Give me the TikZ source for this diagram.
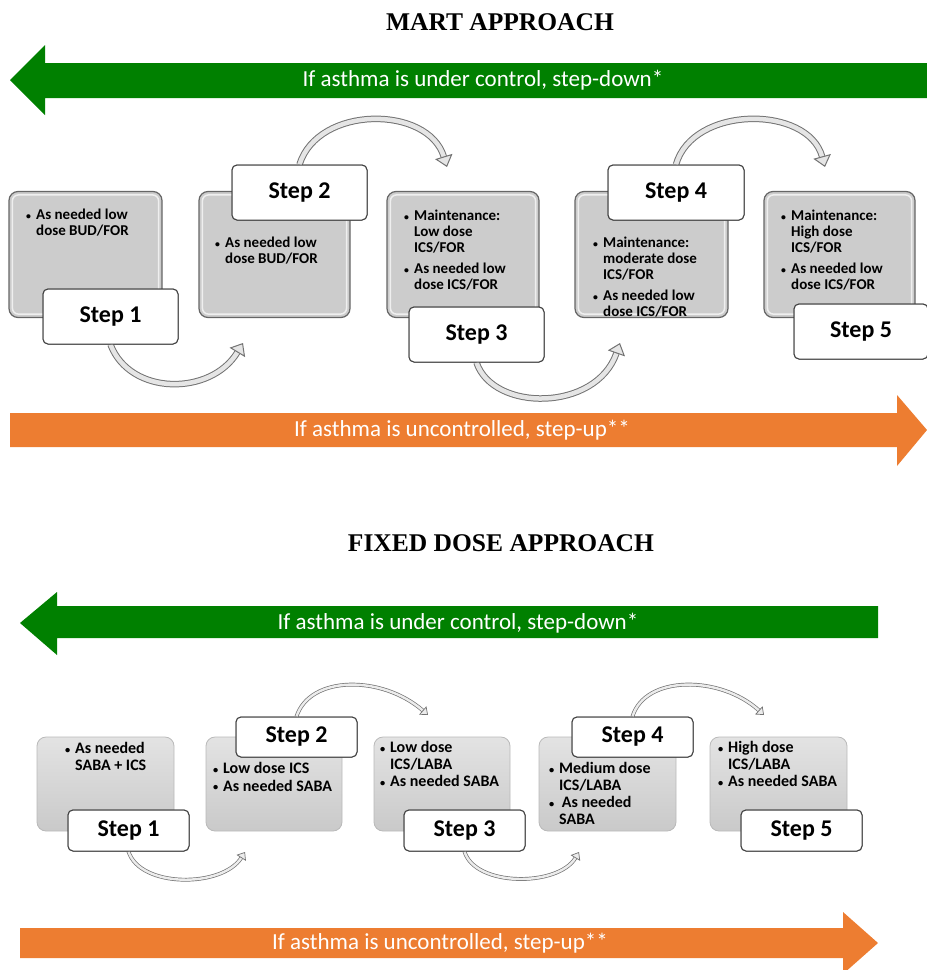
\documentclass[tikz,border=0pt]{standalone}
\usepackage{fontspec}
\usepackage{graphicx}
\setmainfont{Carlito}
\newfontfamily\titlefont{Liberation Serif}
\usetikzlibrary{arrows.meta}
\definecolor{arrgreen}{HTML}{008000}
\definecolor{arrorange}{HTML}{ED7D31}
\newcommand\bul{\makebox[10pt][l]{\raisebox{0.5pt}{\scalebox{0.65}{\textbullet}}}}
\begin{document}
\begin{tikzpicture}[x=1pt,y=-1pt,
  titletext/.style={font=\titlefont\bfseries\fontsize{25.5}{29}\selectfont},
  arrtext/.style={text=white, font=\fontsize{23}{27}\selectfont},
  mbox/.style={draw=black!60, fill=gray!40, rounded corners=9pt, line width=1.2pt, inner sep=0pt},
  fbox/.style={draw=gray!55, top color=gray!22, bottom color=gray!42, rounded corners=9pt, line width=0.8pt, inner sep=0pt},
  stepbox/.style={draw=black!75, fill=white, rounded corners=5pt, line width=1pt, inner sep=0pt, font=\bfseries\fontsize{24}{27}\selectfont},
  mtext/.style={anchor=north west, inner sep=0pt, font=\bfseries\fontsize{15}{16}\selectfont},
  ftext/.style={anchor=north west, inner sep=0pt, font=\bfseries\fontsize{16}{16.5}\selectfont},
  marc/.style={draw=black!55, line width=1pt, double=gray!20, double distance=4.5pt, -{Triangle[length=11pt,width=18pt,fill=gray!20]}},
  farc/.style={draw=black!55, line width=0.7pt, double=gray!15, double distance=2.4pt, -{Triangle[length=7pt,width=11pt,fill=gray!15]}}
]
\useasboundingbox (0,0) rectangle (927,970);

% ---------------- MART ----------------
\node[titletext] (t1) at (500,22) {MART APPROACH};

\fill[arrgreen] (10,80) -- (45,45) -- (45,63) -- (927,63) -- (927,98) -- (45,98) -- (45,115) -- cycle;
\node[arrtext] (g1) at (483,80) {If asthma is under control, step-down*};

\fill[arrorange] (10,413) -- (897,413) -- (897,395) -- (927,430) -- (897,466) -- (897,447) -- (10,447) -- cycle;
\node[arrtext] (o1) at (462,430) {If asthma is uncontrolled, step-up**};

% gray boxes
\node[mbox, minimum width=153pt, minimum height=126pt] (mb1) at (85.5,254.5) {};
\node[mbox, minimum width=151pt, minimum height=126pt] (mb2) at (274.5,254.5) {};
\node[mbox, minimum width=152pt, minimum height=126pt] (mb3) at (463,254.5) {};
\node[mbox, minimum width=153pt, minimum height=126pt] (mb4) at (651.5,254.5) {};
\node[mbox, minimum width=151pt, minimum height=126pt] (mb5) at (839.5,254.5) {};
\foreach \b in {mb1,mb2,mb3,mb4,mb5}{
  \draw[white, opacity=0.7, line width=1.5pt, rounded corners=6pt]
    ([shift={(4pt,4pt)}]\b.south west) rectangle ([shift={(-4pt,-4pt)}]\b.north east);
}

\node[mtext] (mt1) at (26,208.5) {\begin{tabular}{@{}l@{}l@{}}\bul & As needed low\\ & dose BUD/FOR\end{tabular}};
\node[mtext] (mt2) at (215,236.5) {\begin{tabular}{@{}l@{}l@{}}\bul & As needed low\\ & dose BUD/FOR\end{tabular}};
\node[mtext] (mt3) at (404,209.5) {\begin{tabular}{@{}l@{}l@{}}\bul & Maintenance:\\ & Low dose\\ & ICS/FOR\\[5pt]\bul & As needed low\\ & dose ICS/FOR\end{tabular}};
\node[mtext] (mt4) at (593,236.5) {\begin{tabular}{@{}l@{}l@{}}\bul & Maintenance:\\ & moderate dose\\ & ICS/FOR\\[5pt]\bul & As needed low\\ & dose ICS/FOR\end{tabular}};
\node[mtext] (mt5) at (781,209.5) {\begin{tabular}{@{}l@{}l@{}}\bul & Maintenance:\\ & High dose\\ & ICS/FOR\\[5pt]\bul & As needed low\\ & dose ICS/FOR\end{tabular}};

% arc end points
\coordinate (me12) at (243,343);
\coordinate (me23) at (447,167);
\coordinate (me34) at (620,343);
\coordinate (me45) at (825,167);

% step boxes
\node[stepbox, minimum width=135pt, minimum height=55pt] (ms1) at (110.5,316.5) {Step 1};
\node[stepbox, minimum width=135pt, minimum height=55pt] (ms2) at (299.5,192.5) {Step 2};
\node[stepbox, minimum width=135pt, minimum height=55pt] (ms3) at (476.5,334.5) {Step 3};
\node[stepbox, minimum width=136pt, minimum height=55pt] (ms4) at (676,192.5) {Step 4};
\node[stepbox, minimum width=134pt, minimum height=55pt] (ms5) at (861,331.5) {Step 5};

\draw[marc] (ms1.south) .. controls (130,396) and (211,396) .. (me12);
\draw[marc] (ms2.north) .. controls (318,105) and (428,105) .. (me23);
\draw[marc] (ms3.south) .. controls (493,412) and (596,412) .. (me34);
\draw[marc] (ms4.north) .. controls (693,105) and (808,105) .. (me45);

\node[stepbox, minimum width=135pt, minimum height=55pt] at (ms1) {Step 1};
\node[stepbox, minimum width=135pt, minimum height=55pt] at (ms2) {Step 2};
\node[stepbox, minimum width=135pt, minimum height=55pt] at (ms3) {Step 3};
\node[stepbox, minimum width=136pt, minimum height=55pt] at (ms4) {Step 4};
\node[stepbox, minimum width=134pt, minimum height=55pt] at (ms5) {Step 5};

% ---------------- FIXED DOSE ----------------
\node[titletext] (t2) at (501,543) {FIXED DOSE APPROACH};

\fill[arrgreen] (20,623) -- (57,592) -- (57,606) -- (878,606) -- (878,638) -- (57,638) -- (57,655) -- cycle;
\node[arrtext] (g2) at (458,623) {If asthma is under control, step-down*};

\fill[arrorange] (20,928) -- (843,928) -- (843,912) -- (878,943) -- (843,974) -- (843,958) -- (20,958) -- cycle;
\node[arrtext] (o2) at (440,943) {If asthma is uncontrolled, step-up**};

\node[fbox, minimum width=137pt, minimum height=94pt] (fb1) at (105.5,784) {};
\node[fbox, minimum width=136pt, minimum height=94pt] (fb2) at (274,784) {};
\node[fbox, minimum width=136pt, minimum height=94pt] (fb3) at (442,784) {};
\node[fbox, minimum width=137pt, minimum height=94pt] (fb4) at (607.5,784) {};
\node[fbox, minimum width=137pt, minimum height=94pt] (fb5) at (778.5,784) {};

\node[ftext] (ft1) at (65,742) {\begin{tabular}{@{}l@{}l@{}}\bul & As needed\\ & SABA + ICS\end{tabular}};
\node[ftext] (ft2) at (213,762) {\begin{tabular}{@{}l@{}l@{}}\bul & Low dose ICS\\[1pt]\bul & As needed SABA\end{tabular}};
\node[ftext] (ft3) at (380,741) {\begin{tabular}{@{}l@{}l@{}}\bul & Low dose\\ & ICS/LABA\\[1pt]\bul & As needed SABA\end{tabular}};
\node[ftext] (ft4) at (549,762) {\begin{tabular}{@{}l@{}l@{}}\bul & Medium dose\\ & ICS/LABA\\[1pt]\bul & \,As needed\\ & SABA\end{tabular}};
\node[ftext] (ft5) at (718,741) {\begin{tabular}{@{}l@{}l@{}}\bul & High dose\\ & ICS/LABA\\[1pt]\bul & As needed SABA\end{tabular}};

\coordinate (fe12) at (245,852);
\coordinate (fe23) at (428,715);
\coordinate (fe34) at (579,852);
\coordinate (fe45) at (764,715);

\node[stepbox, minimum width=121pt, minimum height=41pt] (fs1) at (128.5,830.5) {Step 1};
\node[stepbox, minimum width=121pt, minimum height=40pt] (fs2) at (296.5,737) {Step 2};
\node[stepbox, minimum width=121pt, minimum height=41pt] (fs3) at (464.5,830.5) {Step 3};
\node[stepbox, minimum width=121pt, minimum height=40pt] (fs4) at (632.5,737) {Step 4};
\node[stepbox, minimum width=121pt, minimum height=41pt] (fs5) at (801.5,830.5) {Step 5};

\draw[farc] (fs1.south) .. controls (140,888) and (222,888) .. (fe12);
\draw[farc] (fs2.north) .. controls (310,675) and (382,675) .. (fe23);
\draw[farc] (fs3.south) .. controls (475,887) and (558,887) .. (fe34);
\draw[farc] (fs4.north) .. controls (645,675) and (720,675) .. (fe45);

\node[stepbox, minimum width=121pt, minimum height=41pt] at (fs1) {Step 1};
\node[stepbox, minimum width=121pt, minimum height=40pt] at (fs2) {Step 2};
\node[stepbox, minimum width=121pt, minimum height=41pt] at (fs3) {Step 3};
\node[stepbox, minimum width=121pt, minimum height=40pt] at (fs4) {Step 4};
\node[stepbox, minimum width=121pt, minimum height=41pt] at (fs5) {Step 5};
\end{tikzpicture}
\end{document}
